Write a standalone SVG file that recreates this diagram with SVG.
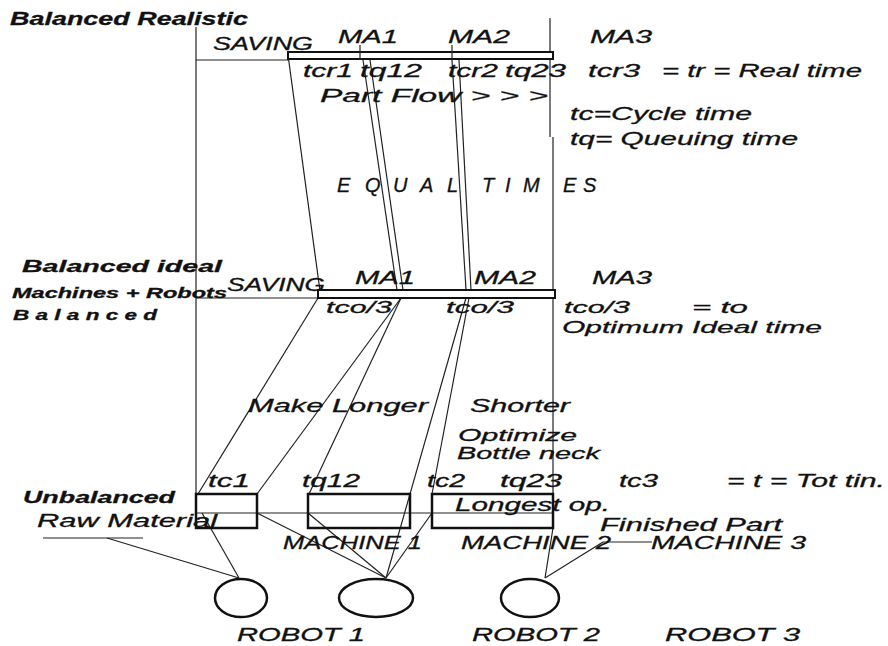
<svg xmlns="http://www.w3.org/2000/svg" width="888" height="646" viewBox="0 0 888 646">
<style>
text{font-family:"Liberation Sans",Arial,sans-serif;font-style:italic;fill:#111;stroke:#111;stroke-width:0.3;}
.b{font-weight:bold;}
.t{font-size:18px;}
.m{font-size:17px;}
.s{font-size:14px;}
.ln{stroke:#222;stroke-width:1.2;fill:none;}
.bar{stroke:#111;stroke-width:2;fill:#fff;}
.box{stroke:#111;stroke-width:2.5;fill:none;}
.rob{stroke:#111;stroke-width:2.5;fill:#fff;}
</style>
<rect width="888" height="646" fill="#fff"/>

<g id="connectors">
  <line class="ln" x1="196" y1="27" x2="196" y2="494"/>
  <line class="ln" x1="550" y1="18" x2="550" y2="137"/>
  <line class="ln" x1="553" y1="137" x2="553" y2="494"/>
  <line class="ln" x1="196" y1="60" x2="288" y2="60"/>
  <line class="ln" x1="196" y1="298" x2="318" y2="298"/>
  <line class="ln" x1="288" y1="55" x2="320" y2="291"/>
  <line class="ln" x1="363" y1="60" x2="397" y2="290"/>
  <line class="ln" x1="370" y1="60" x2="403" y2="290"/>
  <line class="ln" x1="452" y1="60" x2="466" y2="290"/>
  <line class="ln" x1="459" y1="60" x2="471" y2="290"/>
  <line class="ln" x1="318" y1="298" x2="198" y2="494"/>
  <line class="ln" x1="401" y1="298" x2="257" y2="494"/>
  <line class="ln" x1="401" y1="298" x2="309" y2="494"/>
  <line class="ln" x1="466" y1="298" x2="386" y2="578"/>
  <line class="ln" x1="469" y1="298" x2="432" y2="494"/>
  <line class="ln" x1="432" y1="513" x2="386" y2="578"/>
  <line class="ln" x1="43" y1="538" x2="143" y2="538"/>
  <line class="ln" x1="107" y1="538" x2="239" y2="578"/>
  <line class="ln" x1="202" y1="513" x2="239" y2="578"/>
  <line class="ln" x1="257" y1="513" x2="386" y2="578"/>
  <line class="ln" x1="308" y1="513" x2="386" y2="578"/>
  <line class="ln" x1="553" y1="528" x2="545" y2="578"/>
  <line class="ln" x1="545" y1="578" x2="603" y2="542"/>
  <line class="ln" x1="603" y1="542" x2="652" y2="542"/>
  <line class="ln" x1="196" y1="513" x2="553" y2="513"/>
</g>

<g id="title-realistic">
  <text class="b" x="10" y="25" font-size="19" textLength="238" lengthAdjust="spacingAndGlyphs">Balanced Realistic</text>
</g>

<g id="bar-realistic">
  <rect class="bar" x="288" y="52" width="265" height="7"/>
  <line class="ln" x1="360" y1="45" x2="360" y2="60"/>
  <line class="ln" x1="452" y1="45" x2="452" y2="60"/>
  <text class="t" x="213" y="50" textLength="100" lengthAdjust="spacingAndGlyphs">SAVING</text>
  <text class="t" x="338" y="43" textLength="60" lengthAdjust="spacingAndGlyphs">MA1</text>
  <text class="t" x="448" y="43" textLength="62" lengthAdjust="spacingAndGlyphs">MA2</text>
  <text class="t" x="590" y="43" textLength="62" lengthAdjust="spacingAndGlyphs">MA3</text>
  <text class="t" x="303" y="77" textLength="50" lengthAdjust="spacingAndGlyphs">tcr1</text>
  <text class="t" x="360" y="77" textLength="62" lengthAdjust="spacingAndGlyphs">tq12</text>
  <text class="t" x="448" y="77" textLength="50" lengthAdjust="spacingAndGlyphs">tcr2</text>
  <text class="t" x="505" y="77" textLength="61" lengthAdjust="spacingAndGlyphs">tq23</text>
  <text class="t" x="588" y="77" textLength="52" lengthAdjust="spacingAndGlyphs">tcr3</text>
  <text class="t" x="662" y="77" textLength="200" lengthAdjust="spacingAndGlyphs">= tr = Real time</text>
  <text class="t" x="320" y="102" textLength="228" lengthAdjust="spacingAndGlyphs">Part  Flow  &gt; &gt; &gt;</text>
  <text class="t" x="570" y="120" textLength="182" lengthAdjust="spacingAndGlyphs">tc=Cycle time</text>
  <text class="t" x="570" y="145" textLength="228" lengthAdjust="spacingAndGlyphs">tq= Queuing time</text>
</g>

<g id="equal-times">
  <text font-size="20" x="337 365 393 420 447 482 505 523 563 583" y="192">EQUALTIMES</text>
</g>

<g id="bar-ideal">
  <text class="b" x="22" y="272" font-size="17" textLength="200" lengthAdjust="spacingAndGlyphs">Balanced  ideal</text>
  <text class="b s" x="12" y="298" textLength="215" lengthAdjust="spacingAndGlyphs">Machines + Robots</text>
  <text class="b s" x="13" y="320" textLength="144" lengthAdjust="spacingAndGlyphs">B a l a n c e d</text>
  <rect class="bar" x="318" y="290" width="237" height="8"/>
  <text class="t" x="227" y="291" font-size="20" textLength="98" lengthAdjust="spacingAndGlyphs">SAVING</text>
  <text class="t" x="355" y="284" textLength="60" lengthAdjust="spacingAndGlyphs">MA1</text>
  <text class="t" x="474" y="284" textLength="62" lengthAdjust="spacingAndGlyphs">MA2</text>
  <text class="t" x="592" y="284" textLength="60" lengthAdjust="spacingAndGlyphs">MA3</text>
  <text class="m" x="326" y="313" textLength="66" lengthAdjust="spacingAndGlyphs">tco/3</text>
  <text class="m" x="446" y="313" textLength="68" lengthAdjust="spacingAndGlyphs">tco/3</text>
  <text class="m" x="564" y="313" textLength="66" lengthAdjust="spacingAndGlyphs">tco/3</text>
  <text class="m" x="692" y="313" textLength="56" lengthAdjust="spacingAndGlyphs">=  to</text>
  <text class="m" x="562" y="333" textLength="260" lengthAdjust="spacingAndGlyphs">Optimum Ideal time</text>
</g>

<g id="notes">
  <text class="t" x="248" y="412" textLength="180" lengthAdjust="spacingAndGlyphs">Make Longer</text>
  <text class="t" x="470" y="412" textLength="100" lengthAdjust="spacingAndGlyphs">Shorter</text>
  <text class="m" x="458" y="441" textLength="119" lengthAdjust="spacingAndGlyphs">Optimize</text>
  <text class="m" x="457" y="459" textLength="143" lengthAdjust="spacingAndGlyphs">Bottle neck</text>
</g>

<g id="unbalanced">
  <text class="b" x="23" y="503" font-size="17" textLength="152" lengthAdjust="spacingAndGlyphs">Unbalanced</text>
  <text class="t" x="37" y="527" textLength="180" lengthAdjust="spacingAndGlyphs">Raw Material</text>
  <text class="t" x="208" y="487" textLength="42" lengthAdjust="spacingAndGlyphs">tc1</text>
  <text class="t" x="302" y="487" textLength="58" lengthAdjust="spacingAndGlyphs">tq12</text>
  <text class="t" x="427" y="487" textLength="38" lengthAdjust="spacingAndGlyphs">tc2</text>
  <text class="t" x="500" y="487" textLength="62" lengthAdjust="spacingAndGlyphs">tq23</text>
  <text class="t" x="619" y="487" textLength="39" lengthAdjust="spacingAndGlyphs">tc3</text>
  <text class="t" x="727" y="487" textLength="158" lengthAdjust="spacingAndGlyphs">= t = Tot tin.</text>
</g>

<g id="machine-1">
  <rect class="box" x="196" y="494" width="61" height="34"/>
</g>
<g id="machine-2">
  <rect class="box" x="308" y="494" width="102" height="34"/>
</g>
<g id="machine-3">
  <rect class="box" x="432" y="494" width="121" height="34"/>
  <text class="t" x="455" y="511" textLength="155" lengthAdjust="spacingAndGlyphs">Longest  op.</text>
</g>

<g id="machine-labels">
  <text class="t" x="600" y="531" textLength="182" lengthAdjust="spacingAndGlyphs">Finished Part</text>
  <text class="t" x="283" y="549" textLength="139" lengthAdjust="spacingAndGlyphs">MACHINE 1</text>
  <text class="t" x="461" y="549" textLength="150" lengthAdjust="spacingAndGlyphs">MACHINE 2</text>
  <text class="t" x="651" y="549" textLength="155" lengthAdjust="spacingAndGlyphs">MACHINE 3</text>
</g>

<g id="robot-1">
  <ellipse class="rob" cx="241" cy="598" rx="26" ry="19"/>
  <text class="t" x="237" y="641" textLength="128" lengthAdjust="spacingAndGlyphs">ROBOT 1</text>
</g>
<g id="robot-2">
  <ellipse class="rob" cx="376" cy="598" rx="37" ry="19"/>
  <text class="t" x="472" y="641" textLength="128" lengthAdjust="spacingAndGlyphs">ROBOT 2</text>
</g>
<g id="robot-3">
  <ellipse class="rob" cx="530" cy="598" rx="29" ry="19"/>
  <text class="t" x="665" y="641" textLength="135" lengthAdjust="spacingAndGlyphs">ROBOT  3</text>
</g>
</svg>
